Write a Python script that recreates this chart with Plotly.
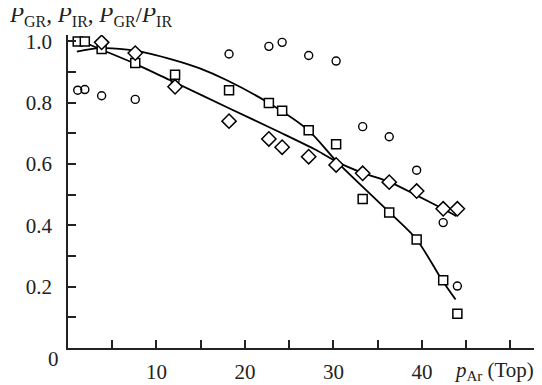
import plotly.graph_objects as go

# ---- data ----
pressure = [1.1, 1.9, 3.8, 7.6, 12.1, 18.2, 22.7, 24.2, 27.2, 30.3, 33.3, 36.3, 39.4, 42.4, 44.0]
p_gr = [1.0, 1.0, 0.975, 0.930, 0.891, 0.841, 0.799, 0.774, 0.710, 0.665, 0.486, 0.442, 0.354, 0.221, 0.112]
p_ir_pressure = [3.8, 7.6, 12.1, 18.2, 22.7, 24.2, 27.2, 30.3, 33.3, 36.3, 39.4, 42.4, 44.0]
p_ir = [0.997, 0.962, 0.852, 0.740, 0.682, 0.655, 0.624, 0.597, 0.570, 0.541, 0.512, 0.454, 0.454]
ratio = [0.841, 0.843, 0.823, 0.811, 0.872, 0.959, 0.984, 0.997, 0.954, 0.936, 0.722, 0.689, 0.580, 0.409, 0.202]

curve_a_x = [1.0, 3.6, 7.6, 11.9, 14.9, 17.9, 22.7, 27.2, 30.4, 36.3, 39.4, 42.3, 43.8]
curve_a_y = [0.967, 0.978, 0.970, 0.940, 0.912, 0.874, 0.799, 0.709, 0.607, 0.443, 0.354, 0.220, 0.158]
curve_b_x = [2.0, 3.8, 7.6, 11.5, 18.2, 24.0, 28.1, 30.4, 33.3, 36.3, 39.4, 42.3, 43.9]
curve_b_y = [0.995, 0.973, 0.927, 0.874, 0.782, 0.703, 0.645, 0.607, 0.571, 0.542, 0.498, 0.455, 0.430]

x_tick_vals = [0, 5, 10, 15, 20, 25, 30, 35, 40, 45, 50]
x_tick_text = ["", "", "10", "", "20", "", "30", "", "40", "", ""]
y_tick_vals = [0.1, 0.2, 0.3, 0.4, 0.5, 0.6, 0.7, 0.8, 0.9, 1.0]
y_tick_text = ["", "0.2", "", "0.4", "", "0.6", "", "0.8", "", "1.0"]

FONT = "Liberation Serif"
FS = 21
tfont = dict(family=FONT, size=FS, color="#222")
title_font = dict(family=FONT, size=23, color="#222")


def sub(s, size):
    return '<sub><span style="font-size:%dpx">%s</span></sub>' % (size, s)


fig = go.Figure()
fig.add_trace(go.Scatter(x=curve_a_x, y=curve_a_y, mode="lines",
                         line=dict(color="black", width=1.8, shape="spline", smoothing=0.8),
                         showlegend=False, hoverinfo="skip"))
fig.add_trace(go.Scatter(x=curve_b_x, y=curve_b_y, mode="lines",
                         line=dict(color="black", width=1.8, shape="spline", smoothing=0.8),
                         showlegend=False, hoverinfo="skip"))
fig.add_trace(go.Scatter(x=pressure, y=ratio, mode="markers", name="P_GR/P_IR",
                         marker=dict(symbol="circle-open", size=8, color="black",
                                     line=dict(width=1.4, color="black")),
                         showlegend=False))
fig.add_trace(go.Scatter(x=pressure, y=p_gr, mode="markers", name="P_GR",
                         marker=dict(symbol="square", size=9, color="white",
                                     line=dict(width=1.5, color="black")),
                         showlegend=False))
fig.add_trace(go.Scatter(x=p_ir_pressure, y=p_ir, mode="markers", name="P_IR",
                         marker=dict(symbol="diamond", size=11, color="white",
                                     line=dict(width=1.5, color="black")),
                         showlegend=False))

# page body has an 8px default margin, so the figure is drawn 8px smaller
fig.update_layout(
    width=534, height=377,
    margin=dict(l=60, r=5, t=27, b=37),
    paper_bgcolor="white", plot_bgcolor="white",
    font=tfont,
    xaxis=dict(range=[0, 53], tickmode="array", tickvals=x_tick_vals, ticktext=x_tick_text,
               ticks="inside", ticklen=8, tickwidth=1.5, tickcolor="#222", tickfont=tfont,
               showline=True, linecolor="#222", linewidth=1.6, showgrid=False, zeroline=False,
               ticklabelstandoff=4, automargin=False),
    yaxis=dict(range=[0, 1.021], tickmode="array", tickvals=y_tick_vals, ticktext=y_tick_text,
               ticks="inside", ticklen=8, tickwidth=1.5, tickcolor="#222", tickfont=tfont,
               showline=True, linecolor="#222", linewidth=1.6, showgrid=False, zeroline=False,
               ticklabelstandoff=10, automargin=False),
)

fig.add_annotation(text="0", x=0, y=0, xref="paper", yref="paper", xshift=-22, yshift=-25,
                   showarrow=False, font=tfont)
fig.add_annotation(text="<i>p</i>" + sub("Ar", 15) + " (Тор)", x=1.0, y=0, xref="paper", yref="paper",
                   xanchor="right", yanchor="top", yshift=-8, xshift=-1,
                   showarrow=False, font=tfont)
fig.add_annotation(text="<i>P</i>" + sub("GR", 16) + ", <i>P</i>" + sub("IR", 16) + ", <i>P</i>"
                   + sub("GR", 16) + "/<i>P</i>" + sub("IR", 16),
                   x=0, y=1, xref="paper", yref="paper", xanchor="left", yanchor="bottom",
                   xshift=-61, yshift=3, showarrow=False, font=title_font)

fig.write_html("out.html")
